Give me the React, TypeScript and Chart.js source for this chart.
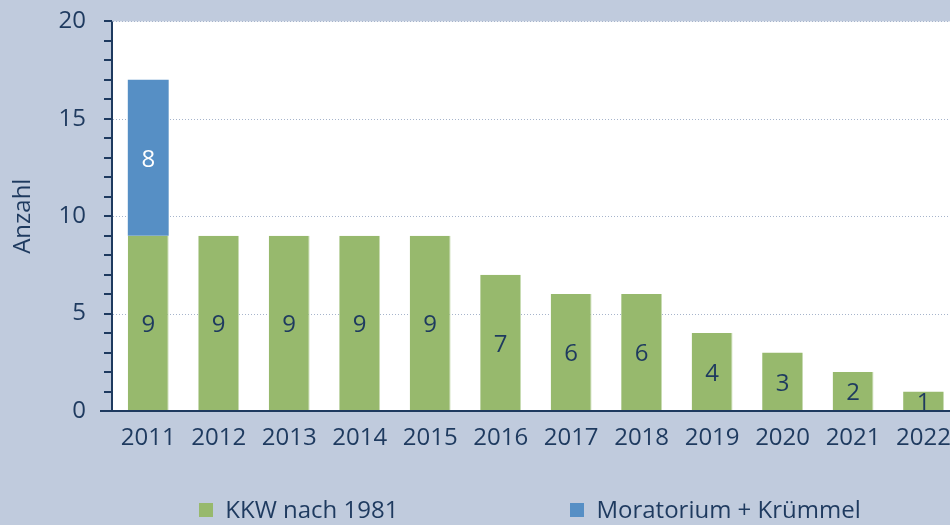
import React, { useEffect, useRef } from "react";
import { Chart, registerables } from "chart.js";

Chart.register(...registerables);

const categories = ["2011", "2012", "2013", "2014", "2015", "2016", "2017", "2018", "2019", "2020", "2021", "2022"];
const kkwNach1981 = [9, 9, 9, 9, 9, 7, 6, 6, 4, 3, 2, 1];
const moratorium = [8, null, null, null, null, null, null, null, null, null, null, null];
const seriesLabels = ["KKW nach 1981", "Moratorium + Krümmel"];
const yTicks = [0, 5, 10, 15, 20];

const BG = "#c0cbdd";
const NAVY = "#1e3a5f";
const GREEN = "#97b96d";
const BLUE = "#568fc5";
const GRID = "#a6b4cb";
const FONT = "'Open Sans', 'Noto Sans', sans-serif";
const FS = 24;

const customPlugin = {
  id: "custom",
  beforeDraw(chart: any) {
    const { ctx, chartArea: a, width, height } = chart;
    ctx.save();
    ctx.fillStyle = BG;
    ctx.fillRect(0, 0, width, height);
    ctx.fillStyle = "#ffffff";
    ctx.fillRect(a.left, a.top, a.right - a.left, a.bottom - a.top);
    const y = chart.scales.y;
    ctx.strokeStyle = GRID;
    ctx.lineWidth = 1;
    ctx.setLineDash([1, 2]);
    for (const v of yTicks) {
      if (v === 0) continue;
      const py = Math.round(y.getPixelForValue(v)) + 0.5;
      ctx.beginPath();
      ctx.moveTo(a.left, py);
      ctx.lineTo(a.right, py);
      ctx.stroke();
    }
    ctx.restore();
  },
  afterDatasetsDraw(chart: any) {
    const { ctx, chartArea: a } = chart;
    const y = chart.scales.y;
    ctx.save();
    ctx.strokeStyle = NAVY;
    ctx.lineWidth = 2;
    const ax = a.left - 1;
    ctx.beginPath();
    ctx.moveTo(ax, a.top);
    ctx.lineTo(ax, a.bottom);
    ctx.stroke();
    for (let v = 1; v <= 20; v++) {
      const py = Math.round(y.getPixelForValue(v));
      ctx.beginPath();
      ctx.moveTo(ax - 8, py);
      ctx.lineTo(ax, py);
      ctx.stroke();
    }
    const by = Math.round(y.getPixelForValue(0));
    ctx.beginPath();
    ctx.moveTo(ax - 12, by);
    ctx.lineTo(a.right, by);
    ctx.stroke();

    ctx.font = `${FS}px ${FONT}`;
    ctx.textAlign = "center";
    ctx.textBaseline = "middle";
    chart.data.datasets.forEach((ds: any, di: number) => {
      const meta = chart.getDatasetMeta(di);
      meta.data.forEach((el: any, i: number) => {
        const val = ds.data[i];
        if (val == null) return;
        const p = el.getProps(["x", "y", "base"], true);
        ctx.fillStyle = di === 1 ? "#ffffff" : NAVY;
        ctx.fillText(String(val), p.x, (p.y + p.base) / 2 + 2);
      });
    });

    const gap = 172;
    const box = 14;
    const boxGap = 12;
    const items = chart.data.datasets.map((ds: any) => ({
      label: ds.label,
      color: ds.backgroundColor,
      w: box + boxGap + ctx.measureText(ds.label).width,
    }));
    const total = items.reduce((s: number, it: any) => s + it.w, 0) + gap * (items.length - 1);
    let x = 530 - total / 2;
    const ly = chart.height - 15;
    ctx.textAlign = "left";
    items.forEach((it: any) => {
      ctx.fillStyle = it.color;
      ctx.fillRect(Math.round(x), ly - box / 2, box, box);
      ctx.fillStyle = NAVY;
      ctx.fillText(it.label, x + box + boxGap, ly + 1);
      x += it.w + gap;
    });
    ctx.restore();
  },
};

export default function App() {
  const ref = useRef<HTMLCanvasElement | null>(null);
  useEffect(() => {
    document.body.style.margin = "0";
    Chart.defaults.font.family = FONT;
    const chart = new Chart(ref.current as HTMLCanvasElement, {
      type: "bar",
      data: {
        labels: categories,
        datasets: [
          {
            label: seriesLabels[0],
            data: kkwNach1981,
            backgroundColor: GREEN,
            borderColor: "#c9dcb4",
            borderWidth: { right: 1, top: 0, left: 0, bottom: 0 } as any,
            categoryPercentage: 1,
            barPercentage: 0.58,
          },
          {
            label: seriesLabels[1],
            data: moratorium as any,
            backgroundColor: BLUE,
            borderWidth: 0,
            categoryPercentage: 1,
            barPercentage: 0.58,
          },
        ],
      },
      options: {
        responsive: false,
        animation: false,
        layout: { padding: { top: 0, left: 0, right: 0, bottom: 0 } },
        plugins: { legend: { display: false }, tooltip: { enabled: false } },
        scales: {
          x: {
            stacked: true,
            grid: { display: false, drawTicks: false },
            border: { display: false },
            ticks: { color: NAVY, font: { size: FS, family: FONT }, padding: 13, maxRotation: 0, autoSkip: false },
            afterFit: (s: any) => {
              s.height = 114;
            },
          },
          y: {
            stacked: true,
            min: 0,
            max: 20,
            grid: { display: false, drawTicks: false },
            border: { display: false },
            ticks: { stepSize: 5, color: NAVY, font: { size: FS, family: FONT }, padding: 27 },
            title: { display: true, text: "Anzahl", color: NAVY, font: { size: FS, family: FONT }, padding: { top: 9, bottom: 0 } },
            afterFit: (s: any) => {
              s.width = 113;
            },
          },
        },
      },
      plugins: [customPlugin],
    });
    return () => chart.destroy();
  }, []);
  return (
    <div style={{ width: 950, height: 525, overflow: "hidden", background: BG }}>
      <canvas ref={ref} width={964} height={545} style={{ display: "block", marginTop: -20 }} />
    </div>
  );
}
